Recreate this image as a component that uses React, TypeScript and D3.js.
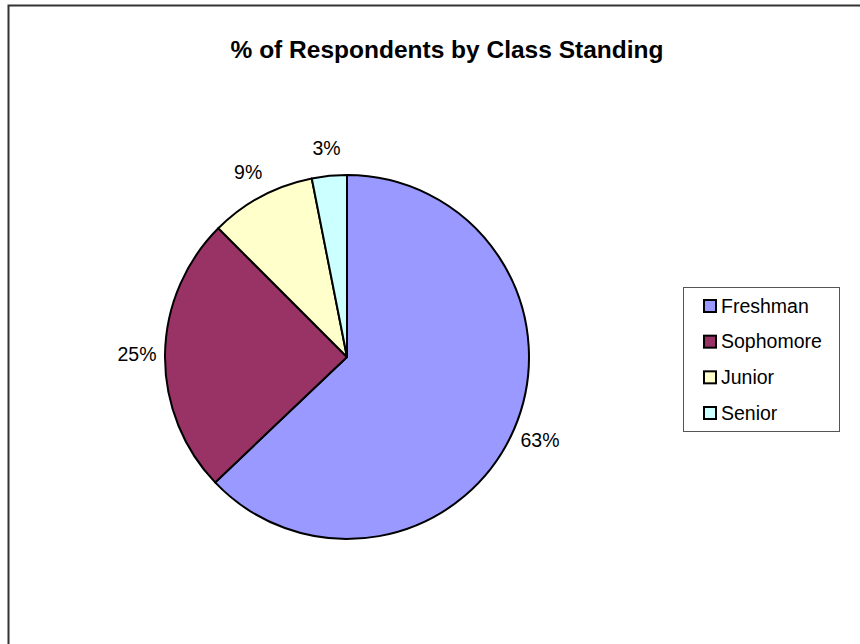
import { useEffect, useRef } from "react";
import * as d3 from "d3";

const categories = ["Freshman", "Sophomore", "Junior", "Senior"];
const shares = [62.9, 24.6, 9.4, 3.1];
const colors = ["#9999ff", "#993366", "#ffffcc", "#ccffff"];
const title = "% of Respondents by Class Standing";

export default function App() {
    const svgRef = useRef<SVGSVGElement>(null);

    useEffect(() => {
        if (!svgRef.current) return;
        const width = 860;
        const height = 644;
        const font = "'Liberation Sans', Arial, sans-serif";

        const svg = d3.select(svgRef.current);
        svg.selectAll("*").remove();
        svg.attr("width", width).attr("height", height);

        svg.append("rect")
            .attr("width", width)
            .attr("height", height)
            .attr("fill", "#fff");

        // chart area border (runs off the right and bottom)
        svg.append("path")
            .attr("d", `M8.5,${height} V5.5 H${width}`)
            .attr("fill", "none")
            .attr("stroke", "#333")
            .attr("stroke-width", 2);

        svg.append("text")
            .attr("x", 447)
            .attr("y", 58)
            .attr("text-anchor", "middle")
            .style("font-family", font)
            .style("font-size", "24.5px")
            .style("font-weight", "bold")
            .text(title);

        const cx = 347;
        const cy = 357;
        const radius = 182;
        const total = d3.sum(shares);

        const pie = d3.pie<number>().sort(null).value((d) => d);
        const arcs = pie(shares);
        const arc = d3.arc<d3.PieArcDatum<number>>().innerRadius(0).outerRadius(radius);
        const labelArc = d3.arc<d3.PieArcDatum<number>>().innerRadius(210).outerRadius(210);

        const g = svg.append("g").attr("transform", `translate(${cx},${cy})`);

        g.selectAll(".slice")
            .data(arcs)
            .enter()
            .append("path")
            .attr("class", "slice")
            .attr("d", arc)
            .attr("fill", (d, i) => colors[i])
            .attr("stroke", "#000")
            .attr("stroke-width", 2)
            .attr("stroke-linejoin", "round");

        g.selectAll(".label")
            .data(arcs)
            .enter()
            .append("text")
            .attr("class", "label")
            .attr("transform", (d) => `translate(${labelArc.centroid(d)})`)
            .attr("text-anchor", "middle")
            .attr("dy", "0.35em")
            .style("font-family", font)
            .style("font-size", "19.5px")
            .text((d) => `${Math.round((d.data / total) * 100)}%`);

        // legend
        const legend = svg.append("g");
        legend.append("rect")
            .attr("x", 683.5)
            .attr("y", 287.5)
            .attr("width", 156)
            .attr("height", 144)
            .attr("fill", "#fff")
            .attr("stroke", "#555")
            .attr("stroke-width", 1);

        const rowY = d3.scalePoint<string>().domain(categories).range([306, 413]);
        const item = legend
            .selectAll(".item")
            .data(categories)
            .enter()
            .append("g")
            .attr("class", "item")
            .attr("transform", (d) => `translate(0,${rowY(d)})`);

        item.append("rect")
            .attr("x", 704)
            .attr("y", -6)
            .attr("width", 12)
            .attr("height", 12)
            .attr("fill", (d, i) => colors[i])
            .attr("stroke", "#000")
            .attr("stroke-width", 2);

        item.append("text")
            .attr("x", 721)
            .attr("dy", "0.35em")
            .style("font-family", font)
            .style("font-size", "19.5px")
            .text((d) => d);
    }, []);

    return (
        <svg
            ref={svgRef}
            style={{ position: "absolute", left: 0, top: 0, display: "block" }}
        ></svg>
    );
}
